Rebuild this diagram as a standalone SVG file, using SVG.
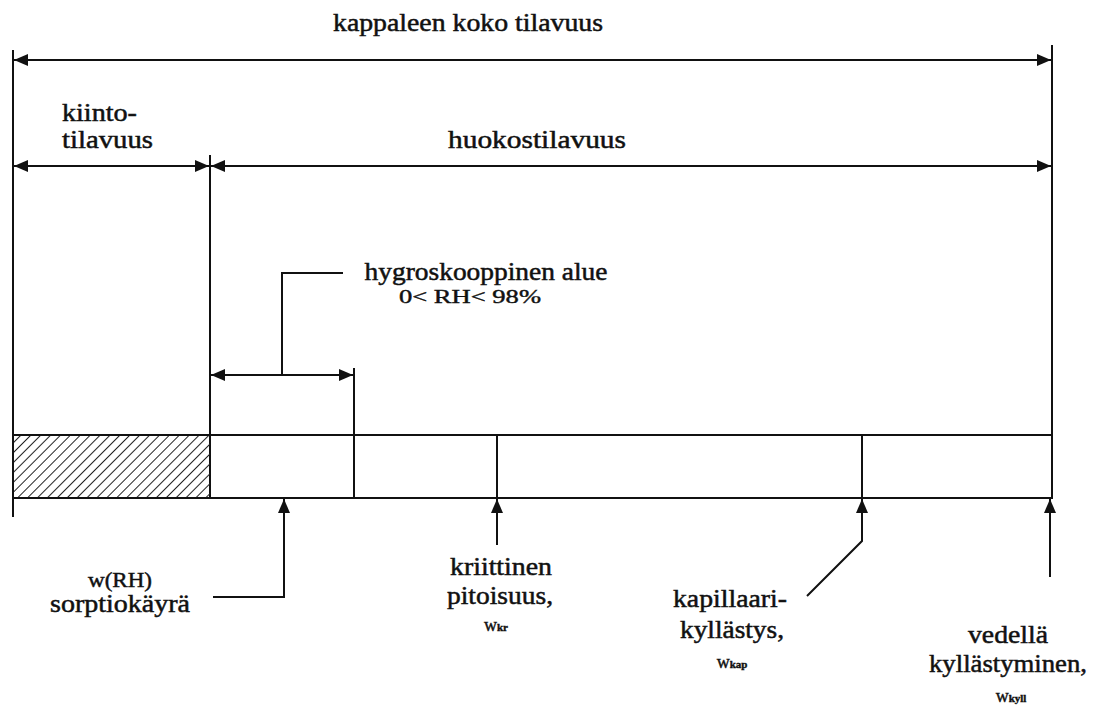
<svg xmlns="http://www.w3.org/2000/svg" width="1100" height="709" viewBox="0 0 1100 709">
<defs>
<marker id="ah" viewBox="0 0 14 12" refX="14" refY="6" markerWidth="14" markerHeight="12" markerUnits="userSpaceOnUse" orient="auto-start-reverse">
<path d="M0,0 L14,6 L0,12 Z" fill="#111"/>
</marker>
<pattern id="hatch" width="7" height="7" patternUnits="userSpaceOnUse" patternTransform="rotate(45)">
<line x1="0" y1="0" x2="0" y2="7" stroke="#222" stroke-width="2"/>
</pattern>
</defs>
<style>
.l{stroke:#111;stroke-width:2;fill:none}
.t{font-family:'Liberation Serif','DejaVu Serif',serif;font-size:25px;fill:#111;stroke:#111;stroke-width:0.5}
.s{font-family:'Liberation Serif','DejaVu Serif',serif;font-size:18px;fill:#111;stroke:#111;stroke-width:0.4}
.sub{font-size:11px;font-weight:bold}
</style>
<rect width="1100" height="709" fill="#fff"/>
<g id="frame">
<line class="l" x1="13" y1="50" x2="13" y2="517"/>
<line class="l" x1="1052" y1="45" x2="1052" y2="435"/>
<line class="l" x1="210" y1="155" x2="210" y2="498"/>
</g>
<g id="bar">
<rect x="13" y="435" width="197" height="63" fill="url(#hatch)"/>
<rect class="l" x="13" y="435" width="1039" height="63"/>
<line class="l" x1="354" y1="368" x2="354" y2="498"/>
<line class="l" x1="497" y1="435" x2="497" y2="498"/>
<line class="l" x1="862" y1="435" x2="862" y2="498"/>
</g>
<g id="connectors">
<line class="l" x1="14" y1="60" x2="1051" y2="60" marker-start="url(#ah)" marker-end="url(#ah)"/>
<line class="l" x1="14" y1="166" x2="209" y2="166" marker-start="url(#ah)" marker-end="url(#ah)"/>
<line class="l" x1="211" y1="166" x2="1051" y2="166" marker-start="url(#ah)" marker-end="url(#ah)"/>
<line class="l" x1="211" y1="375" x2="353" y2="375" marker-start="url(#ah)" marker-end="url(#ah)"/>
<polyline class="l" points="282,375 282,273 343,273"/>
<polyline class="l" points="213,597 284,597 284,499" marker-end="url(#ah)"/>
<line class="l" x1="497" y1="545" x2="497" y2="499" marker-end="url(#ah)"/>
<polyline class="l" points="807,596 862,541 862,499" marker-end="url(#ah)"/>
<line class="l" x1="1050" y1="577" x2="1050" y2="499" marker-end="url(#ah)"/>
</g>
<g id="labels">
<text class="t" x="468" y="31" text-anchor="middle" textLength="270" lengthAdjust="spacingAndGlyphs">kappaleen koko tilavuus</text>
<text class="t" x="62" y="121" textLength="75" lengthAdjust="spacingAndGlyphs">kiinto-</text>
<text class="t" x="62" y="148" textLength="91" lengthAdjust="spacingAndGlyphs">tilavuus</text>
<text class="t" x="537" y="148" text-anchor="middle" textLength="178" lengthAdjust="spacingAndGlyphs">huokostilavuus</text>
<text class="t" x="486" y="280" text-anchor="middle" textLength="243" lengthAdjust="spacingAndGlyphs">hygroskooppinen alue</text>
<text class="s" x="470" y="303" text-anchor="middle" textLength="142" lengthAdjust="spacingAndGlyphs">0&lt; RH&lt; 98%</text>
<text class="t" x="120" y="587" text-anchor="middle" textLength="64" lengthAdjust="spacingAndGlyphs" style="font-size:22px">w(RH)</text>
<text class="t" x="120" y="612" text-anchor="middle" textLength="140" lengthAdjust="spacingAndGlyphs">sorptiokäyrä</text>
<text class="t" x="501" y="575" text-anchor="middle" textLength="102" lengthAdjust="spacingAndGlyphs">kriittinen</text>
<text class="t" x="500" y="604" text-anchor="middle" textLength="106" lengthAdjust="spacingAndGlyphs">pitoisuus,</text>
<text class="s" x="496" y="631" text-anchor="middle">w<tspan class="sub">kr</tspan></text>
<text class="t" x="730" y="607" text-anchor="middle" textLength="114" lengthAdjust="spacingAndGlyphs">kapillaari-</text>
<text class="t" x="732" y="638" text-anchor="middle" textLength="104" lengthAdjust="spacingAndGlyphs">kyllästys,</text>
<text class="s" x="732" y="668" text-anchor="middle">w<tspan class="sub">kap</tspan></text>
<text class="t" x="1008" y="643" text-anchor="middle" textLength="80" lengthAdjust="spacingAndGlyphs">vedellä</text>
<text class="t" x="1008" y="672" text-anchor="middle" textLength="158" lengthAdjust="spacingAndGlyphs">kyllästyminen,</text>
<text class="s" x="1011" y="702" text-anchor="middle">w<tspan class="sub">kyll</tspan></text>
</g>
</svg>
